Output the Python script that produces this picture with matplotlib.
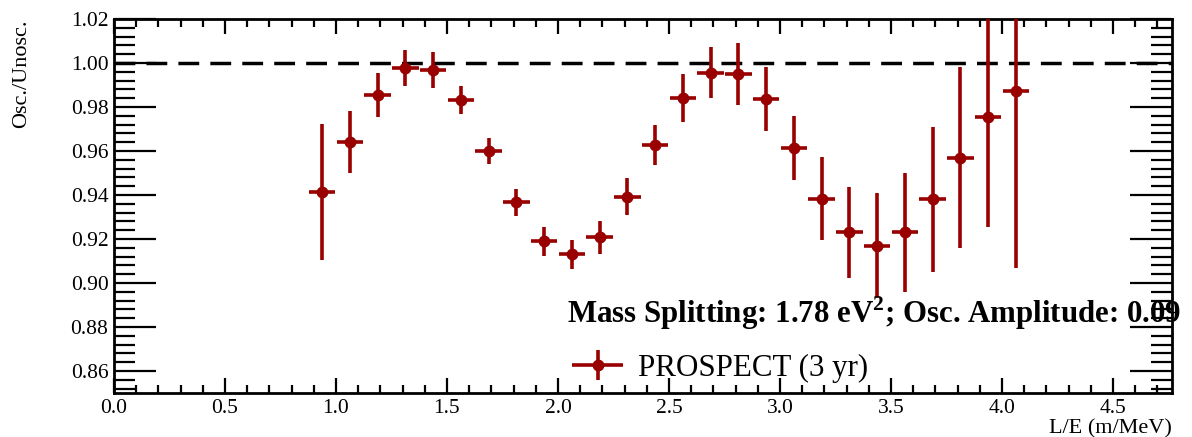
import matplotlib
matplotlib.use("Agg")
import matplotlib.pyplot as plt
from matplotlib.ticker import MultipleLocator
from matplotlib.legend_handler import HandlerErrorbar
from matplotlib.container import ErrorbarContainer

plt.rcParams['font.family'] = ['Liberation Serif', 'DejaVu Serif']
plt.rcParams['mathtext.fontset'] = 'custom'
plt.rcParams['mathtext.rm'] = 'Liberation Serif'
plt.rcParams['mathtext.bf'] = 'Liberation Serif:bold'

# bin centres in L/E (m/MeV)
le = [0.9375 + 0.125 * i for i in range(26)]
ratio = [0.9415, 0.9642, 0.9855, 0.9977, 0.9968, 0.9832, 0.9600, 0.9366,
         0.9190, 0.9130, 0.9207, 0.9393, 0.9628, 0.9841, 0.9955, 0.9950,
         0.9837, 0.9615, 0.9384, 0.9230, 0.9170, 0.9230, 0.9380, 0.9570,
         0.9755, 0.9873]
ratio_err = [0.031, 0.014, 0.010, 0.008, 0.008, 0.0065, 0.006, 0.006,
             0.0066, 0.0066, 0.0077, 0.0084, 0.009, 0.011, 0.0116, 0.0143,
             0.0147, 0.0145, 0.019, 0.0206, 0.024, 0.027, 0.033, 0.041,
             0.050, 0.0805]
bin_halfwidth = 0.06

label = "PROSPECT (3 yr)"
note = r"Mass Splitting: 1.78 eV$^{\mathbf{2}}$; Osc. Amplitude: 0.09"

fig = plt.figure(figsize=(11.92, 4.37), dpi=100)
ax = fig.add_axes([114/1192, 44/437, (1172-114)/1192, (393-19)/437])

ax.axhline(1.0, color='black', lw=2.5, ls=(0, (6, 3.2)), zorder=1)

ax.errorbar(le, ratio, yerr=ratio_err, xerr=bin_halfwidth, fmt='o',
            color='#990000', ms=7.5, elinewidth=2.6, capsize=0,
            label=label, zorder=3)

ax.set_xlim(0, 4.766)
ax.set_ylim(0.85, 1.02)

ax.xaxis.set_major_locator(MultipleLocator(0.5))
ax.xaxis.set_minor_locator(MultipleLocator(0.1))
ax.yaxis.set_major_locator(MultipleLocator(0.02))
ax.yaxis.set_minor_locator(MultipleLocator(0.004))
ax.xaxis.set_major_formatter(plt.FormatStrFormatter('%.1f'))
ax.yaxis.set_major_formatter(plt.FormatStrFormatter('%.2f'))

ax.tick_params(axis='both', which='both', direction='in', top=True, right=True,
               labelsize=15.5, width=1.6, colors='black')
ax.tick_params(axis='x', which='major', length=11, pad=4)
ax.tick_params(axis='x', which='minor', length=5.5)
ax.tick_params(axis='y', which='major', length=30, pad=4)
ax.tick_params(axis='y', which='minor', length=15)
for sp in ax.spines.values():
    sp.set_linewidth(2)

ax.set_xlabel("L/E (m/MeV)", fontsize=16, loc='right', labelpad=1)
fig.text(22/1192, 1 - 19/437, "Osc./Unosc.", rotation=90, ha='center',
         va='top', fontsize=16)

fig.text(1181/1192, (437-313)/437, note, ha='right', va='center',
         fontsize=22.2, fontweight='bold')

ax.legend(loc='center left', bbox_to_anchor=(559/1192, (437-368)/437),
          bbox_transform=fig.transFigure, frameon=False, fontsize=22.3,
          handlelength=1.7, handletextpad=0.45, borderaxespad=0,
          handler_map={ErrorbarContainer: HandlerErrorbar(xerr_size=0.82,
                                                          yerr_size=0.49)})

fig.savefig("out.png", dpi=100)
